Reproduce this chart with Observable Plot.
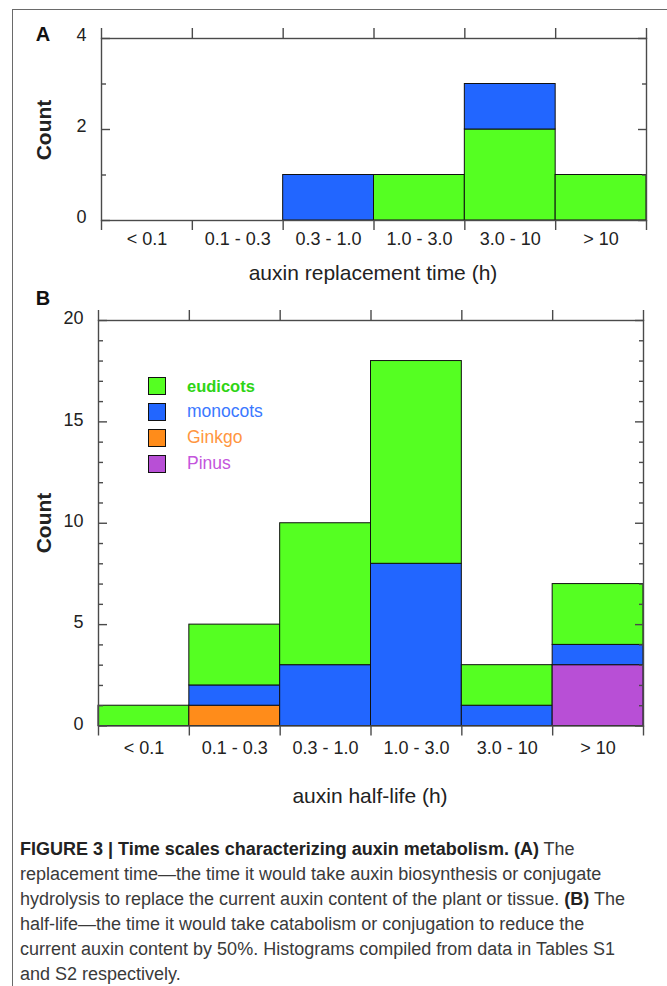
<!DOCTYPE html>
<html><head><meta charset="utf-8">
<script src="https://cdn.jsdelivr.net/npm/d3@7"></script>
<script src="https://cdn.jsdelivr.net/npm/@observablehq/plot@0.6"></script>
<style>
body{margin:0;background:#fff;}
#wrap{position:relative;width:667px;height:986px;overflow:hidden;font-family:"Liberation Sans",Arial,sans-serif;background:#fff;}
.frame{position:absolute;left:12px;top:9px;width:720px;height:1000px;border-left:1.5px solid #6a6a6a;border-top:1.5px solid #6a6a6a;}
.abs{position:absolute;white-space:nowrap;line-height:1;}
.c{transform:translate(-50%,-50%);}
.rot{transform:translate(-50%,-50%) rotate(-90deg);}
.sw{position:absolute;width:16px;height:16px;border:1px solid #111;}
#cap{position:absolute;left:20px;top:837px;font-size:18px;line-height:25px;color:#3a3a3a;white-space:nowrap;}
#cap b{color:#222;}
</style></head><body><div id="wrap"><div class="frame"></div></div>
<script>
// ---- data ----
const bins = ["< 0.1", "0.1 - 0.3", "0.3 - 1.0", "1.0 - 3.0", "3.0 - 10", "> 10"];
const groups = ["eudicots", "monocots", "Ginkgo", "Pinus"];
const groupColors = ["#55ff22", "#2266ff", "#ff8c1a", "#b84fd6"];
const legendTextColors = ["#2ed414", "#3a78ff", "#ff9640", "#c455dc"];

// Panel A: auxin replacement time (stacked bottom -> top)
const stackOrderA = ["eudicots", "monocots"];
const replEudicots = [0, 0, 0, 1, 2, 1];
const replMonocots = [0, 0, 1, 0, 1, 0];

// Panel B: auxin half-life (stacked bottom -> top)
const stackOrderB = ["Ginkgo", "Pinus", "monocots", "eudicots"];
const halfEudicots = [1, 3, 7, 10, 2, 3];
const halfMonocots = [0, 1, 3, 8, 1, 1];
const halfGinkgo   = [0, 1, 0, 0, 0, 0];
const halfPinus    = [0, 0, 0, 0, 0, 3];

const yTicksA = [0, 2, 4];
const yMinorA = [1, 3];
const yTicksB = [0, 5, 10, 15, 20];
const yMinorB = d3.range(1, 20).filter(v => v % 5 !== 0);

function stacked(series, order) {
  const rows = [];
  bins.forEach((b, i) => {
    let c = 0;
    for (const g of order) {
      const v = (series[g] || [])[i] || 0;
      if (v > 0) { rows.push({bin: b, i, group: g, count: v, y1: c, y2: c + v}); c += v; }
    }
  });
  return rows;
}

const axisStroke = "#4a4a4a";
function panel({rows, ymax, yTicks, yMinor, height, marginTop, marginBottom, marginLeft, marginRight, xPad, yDy}) {
  const edges = d3.range(0, bins.length + 1);
  return Plot.plot({
    width: 667, height, marginTop, marginBottom, marginLeft, marginRight,
    style: {fontFamily: "Liberation Sans, Arial, sans-serif", fontSize: "18px", color: "#222", background: "transparent", overflow: "visible"},
    x: {domain: [0, bins.length], axis: null},
    y: {domain: [0, ymax], axis: null},
    color: {domain: groups, range: groupColors},
    marks: [
      Plot.rect(rows, {x1: "i", x2: d => d.i + 1, y1: "y1", y2: "y2", fill: "group", stroke: "#111", strokeWidth: 1}),
      Plot.frame({stroke: axisStroke, strokeWidth: 1.4}),
      Plot.axisY({anchor: "left", ticks: yTicks, tickSize: 0, tickPadding: 15, dy: yDy, fontSize: 18, label: null, tickFormat: d => String(d), fill: "#222"}),
      Plot.axisY({anchor: "left", ticks: yTicks, tickSize: 9, dx: 9, tickFormat: () => "", label: null, stroke: axisStroke, strokeWidth: 1.4}),
      Plot.axisY({anchor: "left", ticks: yMinor, tickSize: 5, dx: 5, tickFormat: () => "", label: null, stroke: axisStroke, strokeWidth: 1.4}),
      Plot.axisY({anchor: "right", ticks: yTicks, tickSize: 9, dx: -9, tickFormat: () => "", label: null, stroke: axisStroke, strokeWidth: 1.4}),
      Plot.axisY({anchor: "right", ticks: yMinor, tickSize: 5, dx: -5, tickFormat: () => "", label: null, stroke: axisStroke, strokeWidth: 1.4}),
      Plot.axisX({anchor: "top", ticks: edges, tickSize: 11, tickFormat: () => "", label: null, stroke: axisStroke, strokeWidth: 1.4}),
      Plot.axisX({anchor: "bottom", ticks: edges, tickSize: 10, tickFormat: () => "", label: null, stroke: axisStroke, strokeWidth: 1.4}),
      Plot.axisX({anchor: "bottom", ticks: bins.map((b, i) => i + 0.5), tickSize: 0, tickPadding: xPad, fontSize: 18, tickFormat: d => bins[Math.floor(d)], label: null, fill: "#222"})
    ]
  });
}

const wrap = document.getElementById("wrap");
function place(el, top) { el.style.position = "absolute"; el.style.left = "0px"; el.style.top = top + "px"; wrap.appendChild(el); }

const plotA = panel({
  rows: stacked({eudicots: replEudicots, monocots: replMonocots}, stackOrderA),
  ymax: 4, yTicks: yTicksA, yMinor: yMinorA,
  height: 290, marginTop: 38, marginBottom: 70, marginLeft: 101, marginRight: 21, xPad: 12, yDy: -3
});
place(plotA, 0);

const plotB = panel({
  rows: stacked({eudicots: halfEudicots, monocots: halfMonocots, Ginkgo: halfGinkgo, Pinus: halfPinus}, stackOrderB),
  ymax: 20, yTicks: yTicksB, yMinor: yMinorB,
  height: 520, marginTop: 30, marginBottom: 84.5, marginLeft: 98, marginRight: 24, xPad: 15, yDy: -2
});
place(plotB, 290);

function label(text, x, y, cls, style) {
  const d = document.createElement("div");
  d.className = "abs " + cls;
  d.textContent = text;
  d.style.left = x + "px"; d.style.top = y + "px";
  Object.assign(d.style, style || {});
  wrap.appendChild(d);
  return d;
}
label("A", 43, 34, "c", {fontWeight: "bold", fontSize: "20px", color: "#111"});
label("B", 43, 298, "c", {fontWeight: "bold", fontSize: "20px", color: "#111"});
label("Count", 43, 129.5, "rot", {fontWeight: "bold", fontSize: "21px", color: "#222"});
label("Count", 43, 523, "rot", {fontWeight: "bold", fontSize: "21px", color: "#222"});
label("auxin replacement time (h)", 373, 272, "c", {fontSize: "21px", color: "#222"});
label("auxin half-life (h)", 370, 795, "c", {fontSize: "21px", color: "#222"});

// legend
groups.forEach((g, k) => {
  const top = 377 + 26 * k;
  const s = document.createElement("div");
  s.className = "sw";
  s.style.left = "148px"; s.style.top = top + "px"; s.style.background = groupColors[k];
  wrap.appendChild(s);
  label(g, 187, top + 9, "", {transform: "translateY(-50%)", fontSize: g === "eudicots" ? "16.5px" : "17.5px", fontWeight: g === "eudicots" ? "bold" : "normal", color: legendTextColors[k]});
});

// caption
const cap = document.createElement("div");
cap.id = "cap";
cap.innerHTML = "<b>FIGURE 3 | Time scales characterizing auxin metabolism. (A)</b> The<br>" +
  "replacement time\u2014the time it would take auxin biosynthesis or conjugate<br>" +
  "hydrolysis to replace the current auxin content of the plant or tissue. <b>(B)</b> The<br>" +
  "half-life\u2014the time it would take catabolism or conjugation to reduce the<br>" +
  "current auxin content by 50%. Histograms compiled from data in Tables S1<br>" +
  "and S2 respectively.";
wrap.appendChild(cap);
</script>
</body></html>
